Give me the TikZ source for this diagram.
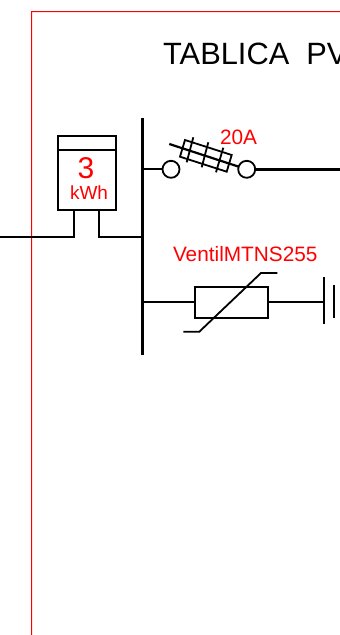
\documentclass[tikz,border=0pt]{standalone}
\usepackage{fontspec}
\setmainfont{Liberation Sans}
\definecolor{labelRed}{RGB}{255,0,0}
\tikzset{
  wire/.style={line width=2.2pt,line cap=butt,line join=miter},
  heavy wire/.style={line width=2.6pt},
  thin wire/.style={line width=2pt},
  bus/.style={line width=3pt},
  boxnode/.style={draw,line width=1.9pt,inner sep=0pt,outer sep=0pt,rectangle},
  contact/.style={draw,circle,line width=1.8pt,minimum size=17pt,inner sep=0pt,outer sep=0pt,fill=white},
  redlabel/.style={text=labelRed,inner sep=0pt,outer sep=0pt},
  sym/.style={line width=1.8pt}
}
\begin{document}
\begin{tikzpicture}[x=1pt,y=-1pt]
\useasboundingbox (0,0) rectangle (340,635);
\clip (0,0) rectangle (340,635);
% frame
\coordinate (frameTR) at (340,11);
\coordinate (frameTL) at (31,11);
\coordinate (frameBL) at (31,635);
\coordinate (frameIn) at (32.2,12.2);
\fill[red] (frameTR) -- (frameTL) -- (frameBL) -- (frameBL -| frameIn) -- (frameIn) -- (frameTR |- frameIn) -- cycle;
% title
\node[anchor=base west,inner sep=0pt,font=\fontsize{30.8}{30.8}\selectfont] (title) at (163,64) {TABLICA\ \ PV};
% bus
\coordinate (busT) at (142,118);
\coordinate (busB) at (142,355);
\draw[bus] (busT) -- (busB);
% meter
\node[boxnode,minimum width=58pt,minimum height=74.5pt] (meter) at (87,173) {};
\coordinate (meterDL) at (58,150.3);
\coordinate (meterDR) at (116,150.3);
\draw[sym] (meterDL) -- (meterDR);
\node[redlabel,anchor=base,font=\fontsize{30}{30}\selectfont] (mval) at (86,178) {3};
\node[redlabel,anchor=base,font=\fontsize{19}{19}\selectfont] (munit) at (89,199) {kWh};
\coordinate (mInT) at (74,210);
\coordinate (mOutT) at (99.3,210);
\coordinate (feedL) at (0,237.3);
\coordinate (busM) at (142,237.3);
\draw[wire] (feedL) -| (mInT);
\draw[wire] (mOutT) |- (busM);
% fuse row
\node[contact] (c1) at (171,169.3) {};
\node[contact] (c2) at (246.7,169.3) {};
\coordinate (busF) at (142,169.3);
\coordinate (outF) at (340,169.3);
\draw[wire] (busF) -- (c1);
\draw[heavy wire] (c2) -- (outF);
\coordinate (bladeS) at (169.3,144);
\draw[wire] (bladeS) -- (c2);
\coordinate (f1) at (185,140);
\coordinate (f2) at (231.7,155);
\coordinate (f3) at (226.7,171.7);
\coordinate (f4) at (180,156.7);
\draw[sym] (f1) -- (f2) -- (f3) -- (f4) -- cycle;
\coordinate (t1a) at (193.3,137.3); \coordinate (t1b) at (186.7,162.3);
\coordinate (t2a) at (208.3,142.3); \coordinate (t2b) at (201.7,167.3);
\coordinate (t3a) at (223.3,147.7); \coordinate (t3b) at (216,172.3);
\draw[sym] (t1a) -- (t1b) (t2a) -- (t2b) (t3a) -- (t3b);
\node[redlabel,anchor=base west,font=\fontsize{20.8}{20.8}\selectfont] (famp) at (220,144.5) {20A};
% surge arrester row
\node[boxnode,minimum width=73pt,minimum height=31.5pt] (sa) at (231.8,302.3) {};
\coordinate (busS) at (142,302.3);
\coordinate (gnd) at (324.3,302.3);
\draw[thin wire] (busS) -- (sa);
\draw[thin wire] (sa) -- (gnd);
\coordinate (g1a) at (324.3,277.3); \coordinate (g1b) at (324.3,324);
\coordinate (g2a) at (333.7,285); \coordinate (g2b) at (333.7,317.7);
\draw[sym] (g1a) -- (g1b);
\draw[sym] (g2a) -- (g2b);
\coordinate (v1) at (183.3,331.7);
\coordinate (v2) at (199.3,331.7);
\coordinate (v3) at (261,273);
\coordinate (v4) at (277.3,273);
\draw[sym] (v1) -- (v2) -- (v3) -- (v4);
\node[redlabel,anchor=base west,font=\fontsize{20.8}{20.8}\selectfont] (salabel) at (173,261) {VentilMTNS255};
\end{tikzpicture}
\end{document}
